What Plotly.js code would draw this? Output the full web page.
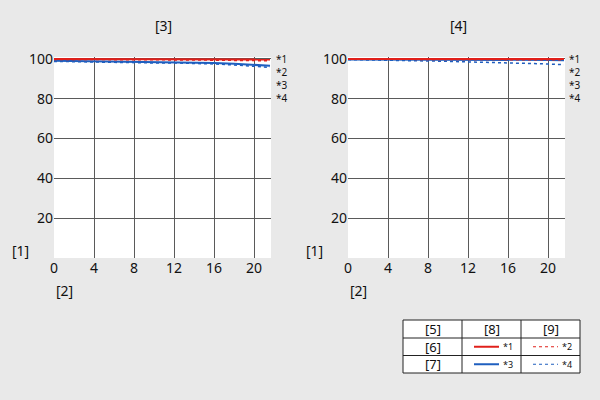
<!DOCTYPE html>
<html><head><meta charset="utf-8">
<script src="https://cdn.plot.ly/plotly-3.0.1.min.js"></script>
<style>body{margin:0;background:#e9e9e9}</style>
</head><body><div id="chart" style="width:600px;height:400px"></div>
<script>
const xVals = [0, 2, 4, 6, 8, 10, 12, 14, 16, 18, 20, 21.6];
// Left chart [3]
const leftS1 = [100, 100, 100, 100, 99.9, 99.9, 99.9, 99.8, 99.8, 99.8, 99.7, 99.7];
const leftS2 = [99.8, 99.8, 99.8, 99.7, 99.7, 99.6, 99.6, 99.5, 99.4, 99.3, 99.2, 99.1];
const leftS3 = [99.1, 99.0, 98.9, 98.8, 98.7, 98.6, 98.5, 98.3, 98.0, 97.6, 97.1, 96.6];
const leftS4 = [98.8, 98.6, 98.4, 98.2, 98.1, 98.0, 98.0, 97.8, 97.5, 97.0, 96.4, 95.8];
// Right chart [4]
const rightS1 = [100, 100, 100, 100, 100, 100, 100, 100, 100, 100, 100, 100];
const rightS2 = [99.9, 99.9, 99.9, 99.9, 99.8, 99.8, 99.8, 99.8, 99.7, 99.7, 99.6, 99.6];
const rightS3 = [99.8, 99.8, 99.8, 99.8, 99.7, 99.7, 99.7, 99.6, 99.6, 99.5, 99.5, 99.4];
const rightS4 = [99.7, 99.6, 99.4, 99.2, 99.0, 98.8, 98.6, 98.4, 98.2, 97.9, 97.5, 97.1];
const xTicks = [0, 4, 8, 12, 16, 20];
const yTicks = [20, 40, 60, 80, 100];
const seriesLabels = ['*1', '*2', '*3', '*4'];
const tableRows = [['[5]', '[8]', '[9]'], ['[6]', '*1', '*2'], ['[7]', '*3', '*4']];

const RED = '#e0201b', BLUE = '#1f5fbf';
function tr(y, xa, ya, color, dash, w) {
  return {x: xVals, y: y, xaxis: xa, yaxis: ya, mode: 'lines', showlegend: false,
    line: {color: color, dash: dash, width: w}, hoverinfo: 'skip'};
}
const data = [
  tr(leftS4, 'x', 'y', BLUE, 'dot', 1.5),
  tr(leftS3, 'x', 'y', BLUE, 'solid', 2),
  tr(leftS2, 'x', 'y', RED, 'dot', 1.5),
  tr(leftS1, 'x', 'y', RED, 'solid', 2),
  tr(rightS4, 'x2', 'y2', BLUE, 'dot', 1.5),
  tr(rightS3, 'x2', 'y2', BLUE, 'solid', 2),
  tr(rightS2, 'x2', 'y2', RED, 'dot', 1.5),
  tr(rightS1, 'x2', 'y2', RED, 'solid', 2)
];
const FONT = 'Noto Sans, Open Sans, sans-serif';
const gridC = '#5a5a5a';
function xa(dom, anchor) {
  return {domain: dom, range: [0, 21.7], tickvals: xTicks, ticktext: xTicks.map(String),
    showgrid: true, gridcolor: gridC, gridwidth: 1, zeroline: false, showline: false,
    ticks: '', anchor: anchor, tickfont: {size: 14, color: '#111', family: FONT}, fixedrange: true};
}
function ya(anchor) {
  return {domain: [0.355, 0.8575], range: [0, 101], tickvals: yTicks, ticktext: yTicks.map(String),
    showgrid: true, gridcolor: gridC, gridwidth: 1, zeroline: false, showline: false,
    ticks: '', anchor: anchor, tickfont: {size: 14, color: '#111', family: FONT}, fixedrange: true};
}
const ann = [];
function txt(t, x, y, size, xanchor, yanchor) {
  ann.push({text: t, x: x / 600, y: 1 - y / 400, xref: 'paper', yref: 'paper', showarrow: false,
    xanchor: xanchor || 'center', yanchor: yanchor || 'middle', borderpad: 0,
    font: {size: size || 14, color: '#111', family: FONT}});
}
txt('[3]', 163, 25);
txt('[4]', 458, 25);
txt('[1]', 20, 250);
txt('[2]', 64, 290);
txt('[1]', 314, 250);
txt('[2]', 358, 290);
const labText = seriesLabels.join('<br>');
txt(labText, 275, 78, 10, 'left');
txt(labText, 568, 78, 10, 'left');

// table
const shapes = [];
const tX = [403, 462, 521, 580], tY = [320, 338, 355.5, 373];
function px(x) { return x / 600; } function py(y) { return 1 - y / 400; }
shapes.push({type: 'rect', xref: 'paper', yref: 'paper', x0: px(tX[0]), x1: px(tX[3]), y0: py(tY[0]), y1: py(tY[3]),
  fillcolor: '#ffffff', line: {color: '#222', width: 1}});
[tX[1], tX[2]].forEach(x => shapes.push({type: 'line', xref: 'paper', yref: 'paper', x0: px(x), x1: px(x), y0: py(tY[0]), y1: py(tY[3]), line: {color: '#222', width: 1}}));
[tY[1], tY[2]].forEach(y => shapes.push({type: 'line', xref: 'paper', yref: 'paper', x0: px(tX[0]), x1: px(tX[3]), y0: py(y), y1: py(y), line: {color: '#222', width: 1}}));
tableRows.forEach((row, r) => {
  const cy = (tY[r] + tY[r + 1]) / 2;
  row.forEach((cell, c) => {
    if (r === 0 || c === 0) {
      txt(cell, (tX[c] + tX[c + 1]) / 2, cy, 13);
    } else {
      const color = r === 1 ? RED : BLUE;
      const dash = c === 1 ? 'solid' : 'dot';
      const x0 = tX[c] + 12, x1 = tX[c] + 37;
      shapes.push({type: 'line', xref: 'paper', yref: 'paper', x0: px(x0), x1: px(x1), y0: py(cy), y1: py(cy),
        line: {color: color, width: c === 1 ? 2 : 1, dash: dash}});
      ann.push({text: cell, x: px(x1 + 2), y: py(cy), xref: 'paper', yref: 'paper', showarrow: false,
        xanchor: 'left', yanchor: 'middle', font: {size: 9, color: '#111', family: FONT}});
    }
  });
});

const layout = {
  width: 600, height: 400, margin: {l: 0, r: 0, t: 0, b: 0},
  paper_bgcolor: '#e9e9e9', plot_bgcolor: '#ffffff', showlegend: false,
  xaxis: xa([54 / 600, 271 / 600], 'y'), yaxis: ya('x'),
  xaxis2: xa([348 / 600, 565 / 600], 'y2'), yaxis2: ya('x2'),
  annotations: ann, shapes: shapes, font: {family: FONT}
};
Plotly.newPlot('chart', data, layout, {staticPlot: true, displayModeBar: false});
</script></body></html>
